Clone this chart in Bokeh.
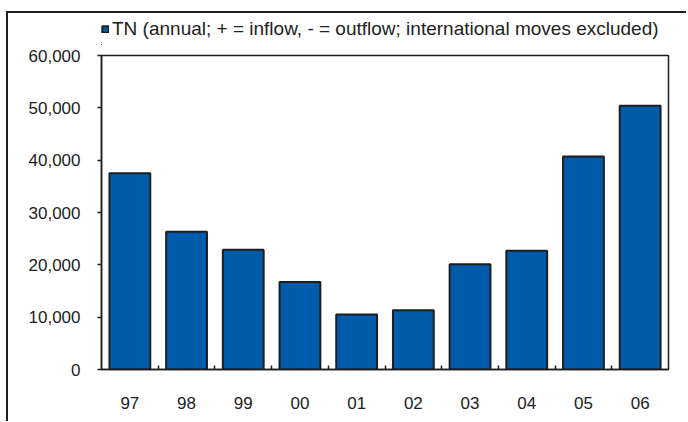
from bokeh.plotting import figure
from bokeh.layouts import column
from bokeh.models import (Range1d, FixedTicker, NumeralTickFormatter, LinearAxis,
                          Legend, LegendItem, ColumnDataSource)
from bokeh.embed import file_html
from bokeh.resources import INLINE

# ---- data ----
years = ["97", "98", "99", "00", "01", "02", "03", "04", "05", "06"]
tn_values = [37500, 26300, 22900, 16700, 10500, 11300, 20100, 22700, 40700, 50400]
y_ticks = [0, 10000, 20000, 30000, 40000, 50000, 60000]
series_label = "TN (annual; + = inflow, - = outflow; international moves excluded)"

FONT = "Liberation Sans"
TXT = "#222222"
DARK = "#1e1e1e"
BLUE = "#005BAA"

idx = list(range(len(years)))
centers = [i + 0.5 for i in idx]
source = ColumnDataSource(dict(x=centers, top=tn_values, year=years))

# ---------- main chart ----------
p = figure(width=678, height=376, output_backend="svg", toolbar_location=None,
           x_range=Range1d(0, len(years)), y_range=Range1d(0, 60000),
           x_axis_type=None, y_axis_type=None,
           min_border_left=93, min_border_right=18, min_border_top=10, min_border_bottom=52)
p.xgrid.visible = False
p.ygrid.visible = False
p.outline_line_color = DARK
p.outline_line_width = 1.5
p.background_fill_color = "white"
p.border_fill_color = "white"

r = p.vbar(x="x", top="top", width=0.72, source=source,
           fill_color=BLUE, line_color=DARK, line_width=2)

yaxis = LinearAxis(ticker=FixedTicker(ticks=y_ticks),
                   formatter=NumeralTickFormatter(format="0,0"))
yaxis.axis_line_color = DARK
yaxis.axis_line_width = 1.5
yaxis.major_tick_line_color = DARK
yaxis.major_tick_line_width = 1.5
yaxis.major_tick_in = 0
yaxis.major_tick_out = 4
yaxis.minor_tick_line_color = None
yaxis.major_label_standoff = 17
yaxis.major_label_text_font = FONT
yaxis.major_label_text_font_size = "17px"
yaxis.major_label_text_color = TXT
p.add_layout(yaxis, "left")

xaxis = LinearAxis(ticker=FixedTicker(ticks=centers, minor_ticks=[i for i in range(1, len(years))]))
xaxis.major_label_overrides = {c: y for c, y in zip(centers, years)}
xaxis.axis_line_color = DARK
xaxis.axis_line_width = 1.5
xaxis.major_tick_line_color = None
xaxis.major_tick_in = 0
xaxis.major_tick_out = 0
xaxis.minor_tick_line_color = DARK
xaxis.minor_tick_line_width = 1.5
xaxis.minor_tick_in = 4
xaxis.minor_tick_out = 0
xaxis.major_label_standoff = 27
xaxis.major_label_text_font = FONT
xaxis.major_label_text_font_size = "17px"
xaxis.major_label_text_color = TXT
p.add_layout(xaxis, "below")

# ---------- legend strip (same series; its bars fall far outside this strip's ranges) ----------
lf = figure(width=678, height=32, output_backend="svg", toolbar_location=None,
            x_range=Range1d(1000, 1001), y_range=Range1d(1e7, 2e7),
            x_axis_location=None, y_axis_location=None,
            min_border_left=81, min_border_right=0, min_border_top=5, min_border_bottom=0)
lf.xgrid.visible = False
lf.ygrid.visible = False
lf.outline_line_color = None
lf.background_fill_color = "white"
lf.border_fill_color = "white"
lr = lf.vbar(x="x", top="top", width=0.72, source=source,
             fill_color=BLUE, line_color=DARK, line_width=2)

legend = Legend(items=[LegendItem(label=series_label, renderers=[lr])],
                location="top_left", orientation="horizontal")
legend.border_line_color = None
legend.background_fill_alpha = 0
legend.padding = 0
legend.margin = 0
legend.spacing = 0
legend.glyph_width = 8
legend.glyph_height = 8
legend.label_standoff = 3
legend.label_text_font = FONT
legend.label_text_font_size = "19px"
legend.label_text_color = TXT
legend.label_height = 18
lf.add_layout(legend, "center")

layout = column(lf, p, spacing=0)
layout.margin = (11, 0, 0, 6)
layout.styles = {"border-left": "2px solid #1e1e1e", "border-top": "2px solid #1e1e1e"}

open("out.html", "w").write(file_html(layout, INLINE))
